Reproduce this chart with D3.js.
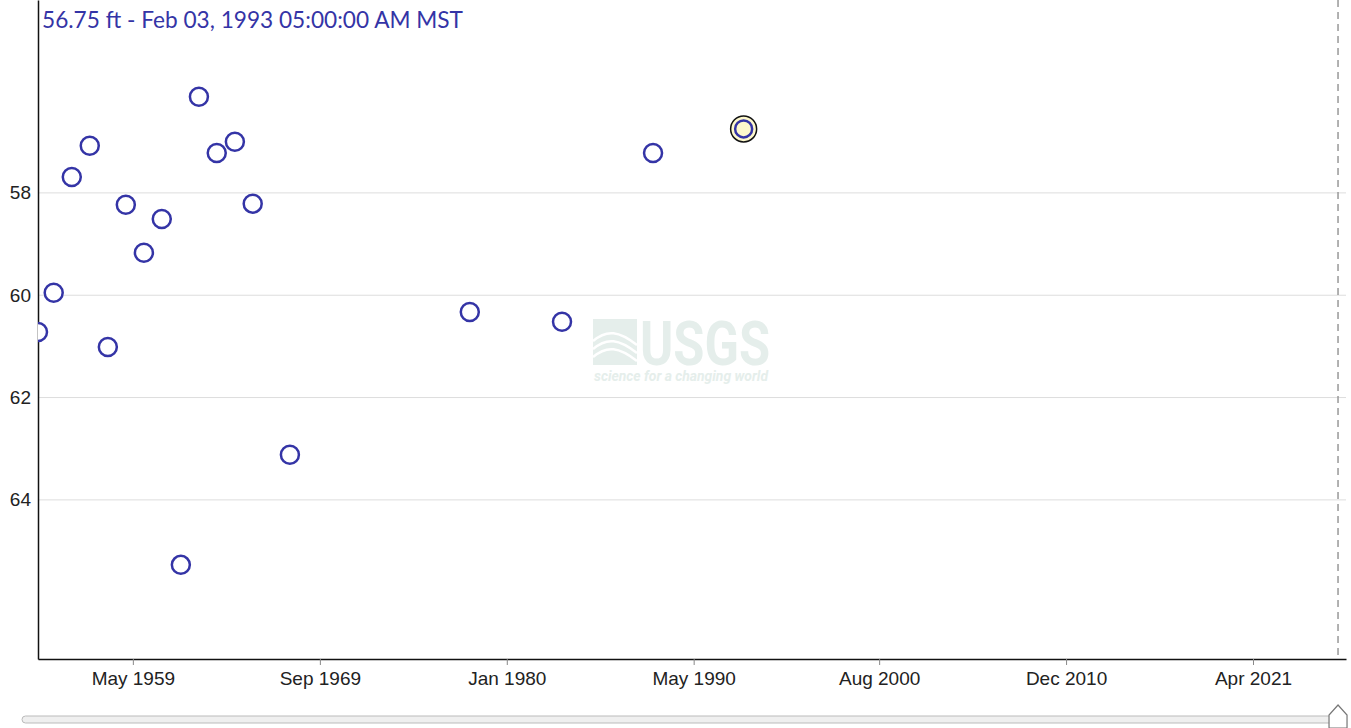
<!DOCTYPE html>
<html>
<head>
<meta charset="utf-8">
<script src="https://cdn.jsdelivr.net/npm/d3@7"></script>
<style>
  body { margin: 0; background: #fff; }
  svg { display: block; }
</style>
</head>
<body>
<div id="chart"></div>
<script>
// measurement dates and depth to water (ft below land surface)
const dates = [
    "1954-02-01", "1954-12-15", "1955-12-15", "1956-12-12", "1957-12-12",
    "1958-12-10", "1959-12-10", "1960-12-05", "1961-12-25", "1962-12-25",
    "1963-12-20", "1964-12-20", "1965-12-15", "1968-01-05", "1977-12-15",
    "1983-01-20", "1988-02-01", "1993-02-03"
];
const depths = [
    60.72, 59.95, 57.69, 57.08, 61.01,
    58.23, 59.17, 58.51, 65.27, 56.12,
    57.22, 57.00, 58.21, 63.12, 60.33,
    60.52, 57.22, 56.75
];
const xTickDates = ["1959-05-01", "1969-09-01", "1980-01-01", "1990-05-01", "2000-08-01", "2010-12-01", "2021-04-01"];
const yTickValues = [58, 60, 62, 64];
const selectedIndex = 17;
const selectedLabel = "56.75 ft - Feb 03, 1993 05:00:00 AM MST";
const xDomain = ["1954-02-01", "2026-05-23"];
const yDomain = [54.23, 67.11];
const nowDate = "2025-12-13";

const W = 1351, H = 728;
const margin = {top: 0, right: 5, bottom: 69, left: 38};
const width = W - margin.left - margin.right;
const height = H - margin.top - margin.bottom;
const parse = d3.timeParse("%Y-%m-%d");

const blue = "#3434a6";
const wmColour = "#e5eeeb";

const svg = d3.select("#chart").append("svg")
    .attr("width", W)
    .attr("height", H);

// watermark, drawn first so it sits behind everything
const wm = svg.append("g")
    .attr("transform", "translate(681, 343)")
    .attr("fill", wmColour);
wm.append("rect")
    .attr("x", -88).attr("y", -24)
    .attr("width", 44).attr("height", 46);
// white waves cut through the mark
[-8, 0, 8].forEach(d => {
    wm.append("path")
        .attr("d", `M-88,${d + 6} C-74,${d - 6} -62,${d - 4} -44,${d + 10}`)
        .attr("fill", "none")
        .attr("stroke", "#fff")
        .attr("stroke-width", 2.5);
});
wm.append("path")
    .attr("d", "M-88,-14 L-62,-14 L-44,-2 L-44,-24 Z")
    .attr("fill", "#fff")
    .attr("opacity", 0.0);
wm.append("text")
    .attr("x", -41).attr("y", 22)
    .attr("font-family", "Roboto, 'Liberation Sans', sans-serif")
    .attr("font-weight", "bold")
    .attr("font-size", 62)
    .attr("textLength", 130)
    .attr("lengthAdjust", "spacingAndGlyphs")
    .text("USGS");
wm.append("text")
    .attr("x", -87).attr("y", 38)
    .attr("font-family", "Roboto, 'Liberation Sans', sans-serif")
    .attr("font-style", "italic")
    .attr("font-weight", "bold")
    .attr("font-size", 14)
    .attr("textLength", 174)
    .attr("lengthAdjust", "spacingAndGlyphs")
    .text("science for a changing world");

const g = svg.append("g")
    .attr("transform", `translate(${margin.left}, ${margin.top})`);

// scales
const x = d3.scaleUtc()
    .domain(xDomain.map(parse))
    .range([0, width]);
const y = d3.scaleLinear()
    .domain(yDomain)
    .range([0, height]); // depth increases downward

// clip for the points
g.append("clipPath").attr("id", "plotclip")
    .append("rect").attr("width", width).attr("height", height);

// grid lines
g.append("g")
    .selectAll("line")
    .data(yTickValues)
    .enter().append("line")
        .attr("x1", 0).attr("x2", width)
        .attr("y1", d => y(d)).attr("y2", d => y(d))
        .attr("stroke", "#dddddd")
        .attr("stroke-width", 1);

// axes
const xAxis = d3.axisBottom(x)
    .tickValues(xTickDates.map(parse))
    .tickFormat(d3.utcFormat("%b %Y"))
    .tickSize(6)
    .tickSizeOuter(0);
const gx = g.append("g")
    .attr("transform", `translate(0, ${height})`)
    .call(xAxis);
gx.select(".domain").attr("stroke", "#111").attr("stroke-width", 1.5);
gx.selectAll(".tick line").attr("stroke", "#888");
gx.selectAll(".tick text")
    .attr("dy", "0.9em")
    .attr("fill", "#222")
    .attr("font-family", "'Liberation Sans', Arial, sans-serif")
    .attr("font-size", 19);

const yAxis = d3.axisLeft(y)
    .tickValues(yTickValues)
    .tickSize(0)
    .tickPadding(7)
    .tickSizeOuter(0);
const gy = g.append("g").call(yAxis);
gy.select(".domain").attr("stroke", "#111").attr("stroke-width", 1.5);
gy.selectAll(".tick text")
    .attr("fill", "#222")
    .attr("font-family", "'Liberation Sans', Arial, sans-serif")
    .attr("font-size", 19);

// "now" dashed line
g.append("line")
    .attr("x1", x(parse(nowDate))).attr("x2", x(parse(nowDate)))
    .attr("y1", 0).attr("y2", height)
    .attr("stroke", "#999")
    .attr("stroke-width", 1.5)
    .attr("stroke-dasharray", "7,5");

// points
const pts = dates.map((d, i) => ({date: parse(d), depth: depths[i]}));
const gp = g.append("g").attr("clip-path", "url(#plotclip)");
gp.selectAll("circle")
    .data(pts)
    .enter().append("circle")
        .attr("cx", d => x(d.date))
        .attr("cy", d => y(d.depth))
        .attr("r", 9)
        .attr("fill", "#fff")
        .attr("stroke", blue)
        .attr("stroke-width", 2.5);

// highlighted point
const sel = pts[selectedIndex];
gp.append("circle")
    .attr("cx", x(sel.date)).attr("cy", y(sel.depth))
    .attr("r", 13)
    .attr("fill", "#fdf8cc")
    .attr("stroke", "#111")
    .attr("stroke-width", 1.5);
gp.append("circle")
    .attr("cx", x(sel.date)).attr("cy", y(sel.depth))
    .attr("r", 8.5)
    .attr("fill", "#fdf8cc")
    .attr("stroke", blue)
    .attr("stroke-width", 2.5);

// label of the selected point
g.append("text")
    .attr("x", 4).attr("y", 28)
    .attr("fill", blue)
    .attr("font-family", "Lato, 'Open Sans', sans-serif")
    .attr("font-size", 24)
    .attr("textLength", 421)
    .attr("lengthAdjust", "spacingAndGlyphs")
    .text(selectedLabel);

// brush slider under the chart
const slider = svg.append("g");
slider.append("rect")
    .attr("x", 22).attr("y", 716)
    .attr("width", W - margin.right - 22).attr("height", 7)
    .attr("rx", 3.5)
    .attr("fill", "#efefef")
    .attr("stroke", "#bbb");
const hx = margin.left + x(parse(nowDate));
slider.append("path")
    .attr("d", `M${hx - 9},728 L${hx - 9},715 L${hx},705 L${hx + 9},715 L${hx + 9},728 Z`)
    .attr("fill", "#fff")
    .attr("stroke", "#777")
    .attr("stroke-width", 1.2);
</script>
</body>
</html>
